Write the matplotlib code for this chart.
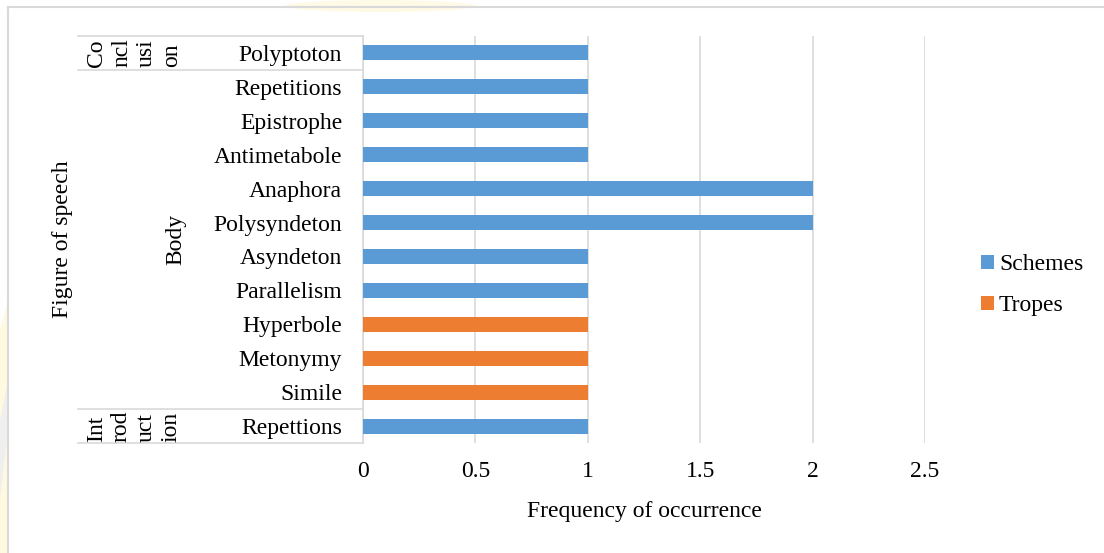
import matplotlib
matplotlib.use('Agg')
import matplotlib.pyplot as plt
from matplotlib.lines import Line2D
from matplotlib.patches import Polygon, Ellipse

plt.rcParams['font.family'] = ['Liberation Serif', 'DejaVu Serif']
plt.rcParams['font.size'] = 17

# data, top of chart first
figures = ['Polyptoton', 'Repetitions', 'Epistrophe', 'Antimetabole', 'Anaphora',
           'Polysyndeton', 'Asyndeton', 'Parallelism', 'Hyperbole', 'Metonymy',
           'Simile', 'Repettions']
schemes = [1, 1, 1, 1, 2, 2, 1, 1, 0, 0, 0, 1]
tropes = [0, 0, 0, 0, 0, 0, 0, 0, 1, 1, 1, 0]
group_labels = ['Co\nncl\nusi\non', 'Body', 'Int\nrod\nuct\nion']
group_sizes = [1, 10, 1]
xticks = [0, 0.5, 1, 1.5, 2, 2.5]
xtick_labels = ['0', '0.5', '1', '1.5', '2', '2.5']

W, H = 1104, 553
def fx(px):
    return px / W
def fy(py):
    return 1 - py / H

fig = plt.figure(figsize=(W / 100, H / 100), dpi=100)

# faint background watermark bits
fig.add_artist(Polygon([(fx(0), fy(330)), (fx(8), fy(300)), (fx(8), fy(553)), (fx(0), fy(553))],
                       closed=True, transform=fig.transFigure, facecolor='#FFF9E0', edgecolor='none', zorder=0))
fig.add_artist(Polygon([(fx(0), fy(420)), (fx(8), fy(380)), (fx(8), fy(430)), (fx(0), fy(500))],
                       closed=True, transform=fig.transFigure, facecolor='#EFEFEF', edgecolor='none', zorder=0))
fig.add_artist(Ellipse((fx(380), fy(6)), fx(190), 12 / H, transform=fig.transFigure,
                       facecolor='#FFFAE6', edgecolor='none', zorder=0))

# chart frame
fig.add_artist(Line2D([fx(8), fx(8)], [fy(7), 0], color='#D9D9D9', lw=1.5, transform=fig.transFigure))
fig.add_artist(Line2D([fx(8), 1], [fy(7), fy(7)], color='#D9D9D9', lw=1.5, transform=fig.transFigure))

ax = fig.add_axes([fx(363), fy(443), fx(925 - 363), (443 - 36) / H])

n = len(figures)
ypos = [n - 1 - i for i in range(n)]
ax.barh(ypos, schemes, height=0.44, color='#5B9BD5', label='Schemes', zorder=3)
ax.barh(ypos, tropes, height=0.44, color='#ED7D31', label='Tropes', zorder=3)

ax.set_xlim(0, 2.5)
ax.set_ylim(-0.5, n - 0.5)
ax.set_xticks(xticks)
ax.set_xticklabels(xtick_labels)
ax.set_yticks(ypos)
ax.set_yticklabels(figures)
ax.tick_params(axis='y', length=0, pad=15)
ax.tick_params(axis='x', length=0, pad=13)
ax.grid(axis='x', color='#D9D9D9', lw=1.2, zorder=0)
for s in ['top', 'right', 'bottom']:
    ax.spines[s].set_visible(False)
ax.spines['left'].set_color('#D9D9D9')
ax.spines['left'].set_linewidth(1.2)

# multi-level category table
x_left = (78 - 363) / (925 - 363)
bounds = [n - 0.5]
top = n - 0.5
for g in group_sizes:
    top -= g
    bounds.append(top)
for b in bounds:
    ax.plot([x_left, 0], [b, b], transform=ax.get_yaxis_transform(), clip_on=False,
            color='#D9D9D9', lw=1.2)

top = n - 0.5
for lab, g in zip(group_labels, group_sizes):
    yc = top - g / 2
    top -= g
    xc = (134 - 363) / (925 - 363) if '\n' in lab else (176 - 363) / (925 - 363)
    ax.text(xc, yc, lab, rotation=90, ha='center', va='center', multialignment='left',
            linespacing=1.25, transform=ax.get_yaxis_transform())

ax.set_xlabel('Frequency of occurrence', labelpad=14)
fig.text(fx(63), (fy(36) + fy(443)) / 2, 'Figure of speech', rotation=90, ha='center', va='center')

fig.legend(loc='center left', bbox_to_anchor=(fx(960), fy(285)), frameon=False,
           handlelength=0.55, handleheight=0.55, handletextpad=0.2, labelspacing=0.85)

fig.savefig('out.png', dpi=100, facecolor='white')
